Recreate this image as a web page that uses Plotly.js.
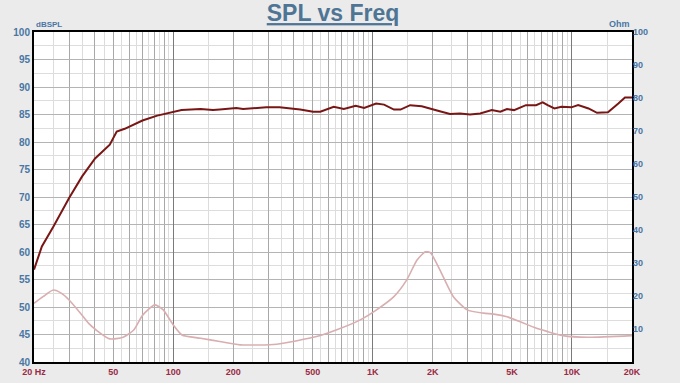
<!DOCTYPE html>
<html>
<head>
<meta charset="utf-8">
<script src="https://cdn.plot.ly/plotly-3.0.1.min.js"></script>
<style>
html,body{margin:0;padding:0;background:#ebebeb;}
#chart{width:680px;height:383px;}
</style>
</head>
<body>
<div id="chart"></div>
<script>
// SPL response (Hz, dB SPL)
const splFreq = [20, 21.9, 25, 30, 34.8, 40.5, 48, 52, 57, 70, 83, 100, 110, 137, 158, 171, 207, 224, 293, 341, 433, 503, 546, 638, 717, 822, 906, 1041, 1141, 1278, 1380, 1542, 1763, 2171, 2443, 2740, 3080, 3460, 3960, 4370, 4720, 5120, 5870, 6600, 7130, 7550, 8160, 8840, 9930, 10740, 12100, 13350, 15150, 17080, 18440, 20000];
const splDb = [56.8, 61.0, 64.6, 69.8, 73.7, 77.0, 79.5, 81.9, 82.4, 83.9, 84.8, 85.5, 85.8, 86.0, 85.8, 85.9, 86.2, 86.0, 86.3, 86.3, 85.9, 85.5, 85.5, 86.4, 86.0, 86.6, 86.2, 87.0, 86.8, 85.9, 85.9, 86.7, 86.5, 85.6, 85.1, 85.2, 85.0, 85.2, 85.8, 85.5, 86.0, 85.8, 86.7, 86.7, 87.2, 86.7, 86.1, 86.4, 86.3, 86.7, 86.1, 85.3, 85.4, 87.0, 88.1, 88.1];

// Impedance (Hz, Ohm)
const zFreq = [20, 22.2, 25, 27.5, 30, 34.2, 37.6, 41, 48, 56, 63.3, 70.2, 80.8, 89, 100, 110.5, 137, 171, 216, 330, 523, 656, 862, 1046, 1278, 1480, 1670, 1840, 1950, 2170, 2540, 2980, 3600, 4050, 4720, 5500, 6440, 7550, 9000, 12000, 20000];
const zOhm = [17.8, 19.8, 21.8, 20.8, 18.8, 14.8, 11.7, 9.7, 7.0, 7.5, 9.7, 14.2, 17.3, 15.8, 11.2, 8.2, 7.2, 6.2, 5.2, 5.4, 7.7, 9.7, 12.7, 15.8, 19.8, 24.8, 30.9, 33.4, 33.1, 28.0, 19.8, 15.8, 14.8, 14.5, 13.7, 12.2, 10.5, 9.2, 8.0, 7.5, 8.0];

// Axis ticks
const xGridMajor = [20,30,40,50,60,70,80,90,100,200,300,400,500,600,700,800,900,1000,2000,3000,4000,5000,6000,7000,8000,9000,10000,20000];
const xLabelVals = [20, 50, 100, 200, 500, 1000, 2000, 5000, 10000, 20000];
const xLabelText = ['20 Hz', '50', '100', '200', '500', '1K', '2K', '5K', '10K', '20K'];
const xGridMinor = [25,35,45,55,65,75,85,95,150,250,350,450,550,650,750,850,950,1500,2500,3500,4500,5500,6500,7500,8500,9500,15000];
const xDecades = [100, 1000, 10000];
const yTicks = [40,45,50,55,60,65,70,75,80,85,90,95,100];
const yMinor = [42.5,47.5,52.5,57.5,62.5,67.5,72.5,77.5,82.5,87.5,92.5,97.5];
const ohmTicks = [10,20,30,40,50,60,70,80,90,100];

const xText = xGridMajor.map(v => { const i = xLabelVals.indexOf(v); return i >= 0 ? xLabelText[i] : ''; });

const lx = Math.log10;
const xRange = [lx(20), lx(20000)];
const tickBlue = '#4a76a3';
const tickRed = '#9a2a45';
const fam = 'Arial, Liberation Sans, sans-serif';

const traces = [
  {x: zFreq, y: zOhm, xaxis: 'x2', yaxis: 'y2', type: 'scatter', mode: 'lines',
   line: {color: '#d9aeb0', width: 1.6, shape: 'spline', smoothing: 0.6}, hoverinfo: 'skip'},
  {x: splFreq, y: splDb, xaxis: 'x', yaxis: 'y', type: 'scatter', mode: 'lines',
   line: {color: '#7a1515', width: 2}, hoverinfo: 'skip'}
];

const layout = {
  width: 680, height: 383,
  margin: {l: 34, r: 48, t: 32, b: 21, pad: 0},
  paper_bgcolor: '#ebebeb',
  plot_bgcolor: '#ffffff',
  showlegend: false,
  title: {
    text: '<b>SPL vs Freq</b>',
    font: {family: fam, size: 23, color: '#4f7595', lineposition: 'under'},
    x: 0.5, xref: 'paper', xanchor: 'center',
    y: 0.966, yref: 'container', yanchor: 'middle'
  },
  xaxis: {
    type: 'log', range: xRange,
    tickmode: 'array', tickvals: xGridMajor, ticktext: xText,
    showgrid: true, gridcolor: '#a8a8a8', gridwidth: 1,
    minor: {tickmode: 'array', tickvals: xGridMinor, showgrid: true, gridcolor: '#dcdcdc', gridwidth: 1, ticks: ''},
    ticks: '', ticklen: 0,
    tickfont: {family: fam, size: 9, color: tickRed, weight: 'bold'},
    showline: true, linecolor: '#000', linewidth: 2, mirror: true,
    zeroline: false, fixedrange: true
  },
  xaxis2: {
    type: 'log', range: xRange, overlaying: 'x', side: 'bottom',
    tickmode: 'array', tickvals: xDecades, showticklabels: false,
    showgrid: true, gridcolor: '#7a7a7a', gridwidth: 1, ticks: '',
    showline: false, zeroline: false, fixedrange: true
  },
  yaxis: {
    range: [40, 100],
    tickmode: 'array', tickvals: yTicks,
    showgrid: true, gridcolor: '#b4b4b4', gridwidth: 1,
    minor: {tickmode: 'array', tickvals: yMinor, showgrid: true, gridcolor: '#dddddd', gridwidth: 1, ticks: ''},
    ticks: '', ticklen: 0,
    tickfont: {family: fam, size: 10, color: tickBlue, weight: 'bold'},
    showline: true, linecolor: '#000', linewidth: 2, mirror: true,
    zeroline: false, fixedrange: true
  },
  yaxis2: {
    range: [0, 100], overlaying: 'y', side: 'right',
    tickmode: 'array', tickvals: ohmTicks,
    showgrid: false, ticks: '', ticklen: 0,
    tickfont: {family: fam, size: 9, color: tickBlue, weight: 'bold'},
    showline: false, zeroline: false, fixedrange: true
  },
  annotations: [
    {text: 'dBSPL', xref: 'paper', yref: 'paper', x: 0, y: 1, xanchor: 'left', yanchor: 'bottom', yshift: 1, showarrow: false,
     font: {family: fam, size: 8, color: tickBlue, weight: 'bold'}},
    {text: 'Ohm', xref: 'paper', yref: 'paper', x: 1, y: 1, xanchor: 'right', yanchor: 'bottom', yshift: 1, showarrow: false,
     font: {family: fam, size: 9, color: tickBlue, weight: 'bold'}}
  ]
};

Plotly.newPlot('chart', traces, layout, {displayModeBar: false, staticPlot: true});
</script>
</body>
</html>
